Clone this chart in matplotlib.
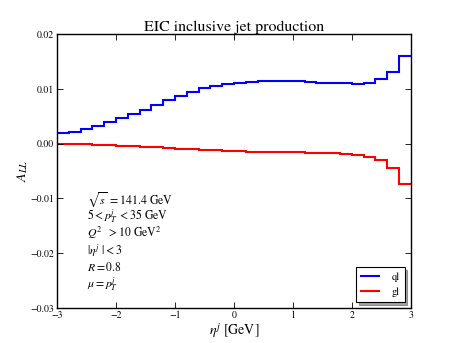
import numpy as np
import matplotlib
matplotlib.use("Agg")
import matplotlib.pyplot as plt

plt.rcParams['font.family'] = 'STIXGeneral'
plt.rcParams['mathtext.fontset'] = 'stix'

eta_edges = np.round(np.arange(-3.0, 3.0001, 0.2), 2)

ql = [0.0020, 0.0022, 0.0027, 0.0032, 0.0039, 0.0046, 0.0054, 0.0062, 0.0071, 0.0079,
      0.0087, 0.0094, 0.0101, 0.0105, 0.0109, 0.0111, 0.0113, 0.0114, 0.0115, 0.0115,
      0.0114, 0.0113, 0.0111, 0.0110, 0.0110, 0.0109, 0.0111, 0.0117, 0.0131, 0.0160]

gl = [0.0000, -0.0001, -0.0001, -0.0002, -0.0003, -0.0004, -0.0005, -0.0006, -0.0007, -0.0008,
      -0.0009, -0.0010, -0.0011, -0.0012, -0.0013, -0.0014, -0.0015, -0.0015, -0.0016, -0.0016,
      -0.0016, -0.0017, -0.0017, -0.0018, -0.0019, -0.0021, -0.0024, -0.0030, -0.0044, -0.0073]

xticks = [-3, -2, -1, 0, 1, 2, 3]
yticks = [-0.03, -0.02, -0.01, 0.00, 0.01, 0.02]

info = [r'$\sqrt{s}\ =$141.4 GeV',
        r'$5<p_T^j\ <$35 GeV',
        r'$Q^2\ \ >$10 GeV$^2$',
        r'$|\eta^j\ |<3$',
        r'$R=0.8$',
        r'$\mu=p_T^j$']

fig = plt.figure(figsize=(4.57, 3.43), dpi=100)
ax = fig.add_axes([0.1247, 0.102, 0.7743, 0.799])

ax.stairs(ql, eta_edges, color='blue', lw=1.5, label='ql', baseline=None)
ax.stairs(gl, eta_edges, color='red', lw=1.5, label='gl', baseline=None)

ax.set_xlim(-3, 3)
ax.set_ylim(-0.03, 0.02)
ax.set_xticks(xticks)
ax.set_yticks(yticks)
ax.set_xticklabels([f'{t:d}' if t >= 0 else '\u2212' + f'{-t:d}' for t in xticks])
ax.set_yticklabels([f'{t:.2f}'.replace('-', '\u2212') for t in yticks])
ax.tick_params(direction='in', top=True, right=True, labelsize=7, length=4, width=0.6, pad=2)
for s in ax.spines.values():
    s.set_linewidth(1.0)

ax.set_title('EIC inclusive jet production', fontsize=11.4, pad=2)
ax.set_xlabel(r'$\eta^j$ [GeV]', fontsize=10, labelpad=1)
ax.set_ylabel(r'$A_{LL}$', fontsize=10, labelpad=0)

for i, t in enumerate(info):
    ax.text(0.084, 0.38 - i * 0.061, t, transform=ax.transAxes, fontsize=8.5, va='baseline')

leg = ax.legend(loc='lower right', fontsize=7.5, shadow=True, fancybox=False,
                handlelength=1.7, borderpad=0.5, labelspacing=0.5, handletextpad=1.2,
                borderaxespad=0.6)
leg.get_frame().set_edgecolor('black')
leg.get_frame().set_linewidth(0.8)

fig.savefig('out.png', dpi=100)
